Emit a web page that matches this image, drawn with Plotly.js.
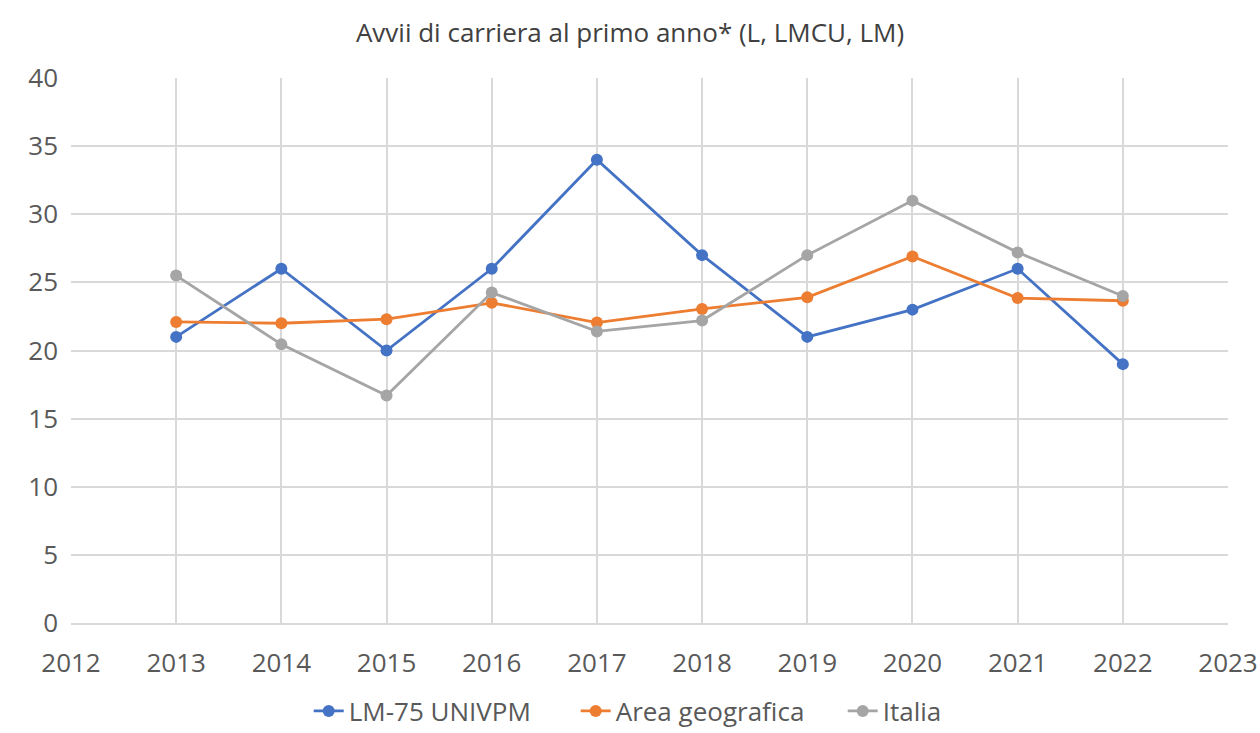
<!DOCTYPE html>
<html>
<head>
<meta charset="utf-8">
<script src="https://cdn.plot.ly/plotly-3.0.1.min.js"></script>
<style>html,body{margin:0;padding:0;background:#fff;}#chart{width:1260px;height:733px;}</style>
</head>
<body>
<div id="chart"></div>
<script>
const years = [2013, 2014, 2015, 2016, 2017, 2018, 2019, 2020, 2021, 2022];
const univpm = [21, 26, 20, 26, 34, 27, 21, 23, 26, 19];
const areaGeografica = [22.1, 22.0, 22.3, 23.5, 22.05, 23.05, 23.9, 26.9, 23.85, 23.65];
const italia = [25.5, 20.45, 16.7, 24.25, 21.4, 22.2, 27.0, 31.0, 27.2, 24.0];
const seriesNames = ["LM-75 UNIVPM", "Area geografica", "Italia"];
const colors = ["#4472C4", "#ED7D31", "#A5A5A5"];

const mk = (y, i) => ({
  x: years, y: y, name: seriesNames[i], type: "scatter", mode: "lines+markers",
  line: {color: colors[i], width: 2.8}, marker: {color: colors[i], size: 12}
});

const data = [mk(univpm, 0), mk(areaGeografica, 1), mk(italia, 2)];
const font = "Open Sans, Liberation Sans, sans-serif";
const layout = {
  width: 1260, height: 733,
  margin: {l: 71, r: 32, t: 78, b: 110},
  paper_bgcolor: "#fff", plot_bgcolor: "#fff",
  title: {text: "Avvii di carriera al primo anno* (L, LMCU, LM)", x: 0.5, xanchor: "center", y: 0.955, yanchor: "middle",
          font: {family: font, size: 26, color: "#404040"}},
  xaxis: {range: [2012, 2023], dtick: 1, tick0: 2012, showgrid: true, gridcolor: "#d9d9d9", gridwidth: 2,
          zeroline: false, showline: true, linecolor: "#d9d9d9", linewidth: 2, ticks: "", ticklabelstandoff: 16,
          tickfont: {family: font, size: 26, color: "#595959"}, fixedrange: true},
  yaxis: {range: [0, 40], dtick: 5, showgrid: true, gridcolor: "#d9d9d9", gridwidth: 2, zeroline: false,
          showline: false, ticks: "", ticklabelstandoff: 12,
          tickfont: {family: font, size: 26, color: "#595959"}, fixedrange: true},
  showlegend: true,
  legend: {orientation: "h", x: 0.245, xanchor: "left", xref: "container", y: 0.03, yref: "container", yanchor: "middle",
           entrywidth: 222, entrywidthmode: "pixels",
           font: {family: font, size: 26, color: "#595959"}},
  hovermode: false
};
Plotly.newPlot("chart", data, layout, {displayModeBar: false, staticPlot: true});
</script>
</body>
</html>
